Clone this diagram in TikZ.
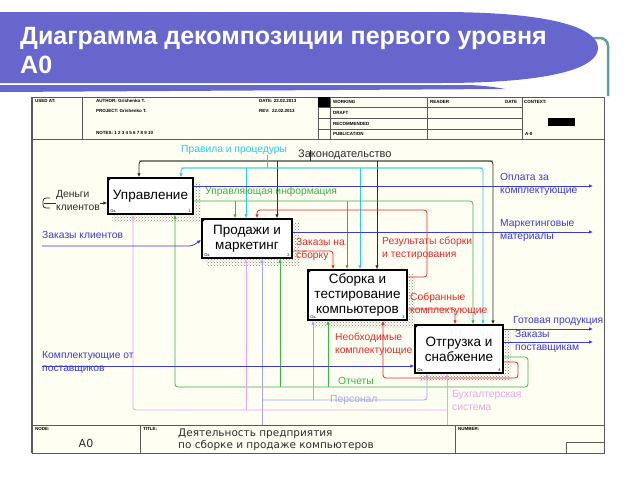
\documentclass[tikz,border=0pt]{standalone}
\usepackage{fontspec}
\setmainfont{Liberation Sans}
\newfontfamily\dejavu{DejaVu Sans}
\usetikzlibrary{arrows.meta, patterns, calc}

\definecolor{bannerblue}{RGB}{102,102,204}
\definecolor{tealline}{RGB}{96,160,150}
\definecolor{cream}{RGB}{255,254,243}
\definecolor{framegray}{RGB}{90,90,90}
\definecolor{idefblack}{RGB}{45,45,45}
\definecolor{idefblue}{RGB}{60,60,205}
\definecolor{idefred}{RGB}{225,45,45}
\definecolor{idefgreen}{RGB}{60,180,70}
\definecolor{idefcyan}{RGB}{40,205,230}
\definecolor{idefpink}{RGB}{230,165,235}
\definecolor{ideflav}{RGB}{165,165,230}

\begin{document}
\begin{tikzpicture}[x=1pt, y=-1pt,
    wire/.style={line width=0.8pt, rounded corners=3pt},
    flow/.style={wire, -{Latex[length=4pt, width=3.5pt]}},
    proc/.style={draw=black, line width=1.5pt, fill=white, align=center,
                 inner sep=0pt, font=\fontsize{13.5}{15}\selectfont},
    boxshadow/.style={pattern=crosshatch dots, pattern color=gray},
    lbl/.style={inner sep=0pt, align=left, font=\fontsize{10.3}{13}\selectfont},
    hdr/.style={inner sep=0pt, anchor=west, font=\fontsize{4.5}{5}\selectfont\bfseries},
    tag/.style={inner sep=0pt, font=\fontsize{4}{4}\selectfont}]
    \useasboundingbox (0, 0) rectangle (640, 480);

    % slide title
    \draw[tealline, line width=2.5pt, rounded corners=8pt] (560, 38) -- (608, 38) -- (608, 96);
    \fill[bannerblue] (0, 12) -- (440, 12) .. controls (560, 12) and (598, 30) .. (598, 48)
                              .. controls (598, 66) and (560, 83) .. (440, 83) -- (0, 83) -- cycle;
    \fill[bannerblue] (0, 85) -- (470, 85) .. controls (490, 86) and (500, 88) .. (505, 89)
                              -- (0, 92) -- cycle;
    \node[anchor=base west, inner sep=0pt, text=white, font=\fontsize{25}{29}\selectfont\bfseries]
        (title) at (20, 44) {Диаграмма декомпозиции первого уровня};
    \node[anchor=base west, inner sep=0pt, text=white, font=\fontsize{25}{29}\selectfont\bfseries]
        (titleB) at (20, 73) {А0};

    % form
    \fill[cream] (32, 97) rectangle (604, 453);
    \draw[framegray, line width=0.8pt] (32, 97) rectangle (604, 453);
    \draw[framegray, line width=1.6pt] (32, 97) -- (32, 453);
    \draw[framegray, line width=0.8pt] (32, 139) -- (604, 139);
    \draw[framegray, line width=0.8pt] (82, 97) -- (82, 139);
    \foreach \xx in {318, 330, 427, 522}
        \draw[framegray, line width=0.8pt] (\xx, 97) -- (\xx, 139);
    \foreach \yy in {107, 118, 129}
        \draw[framegray, line width=0.8pt] (318, \yy) -- (522, \yy);
    \fill[black] (318, 97) rectangle (330, 107);
    \fill[black] (548, 118) rectangle (575, 126);
    \node[hdr] (used) at (35, 101) {USED AT:};
    \node[hdr] (author) at (96, 101) {AUTHOR: Grishenko T.};
    \node[hdr] (project) at (96, 111) {PROJECT: Grishenko T.};
    \node[hdr] (notes) at (96, 133) {NOTES: 1 2 3 4 5 6 7 8 9 10};
    \node[hdr] (date) at (259, 101) {DATE: 22.02.2013};
    \node[hdr] (rev) at (259, 111) {REV: \ 22.02.2013};
    \node[hdr] (working) at (333, 102) {WORKING};
    \node[hdr] (draft) at (333, 113) {DRAFT};
    \node[hdr] (recom) at (333, 124) {RECOMMENDED};
    \node[hdr] (publ) at (333, 134) {PUBLICATION};
    \node[hdr] (reader) at (430, 102) {READER};
    \node[hdr] (rdate) at (505, 102) {DATE};
    \node[hdr] (context) at (524, 102) {CONTEXT:};
    \node[hdr] (ctxnode) at (525, 134) {A-0};

    \draw[framegray, line width=0.8pt] (32, 425) -- (604, 425);
    \draw[framegray, line width=0.8pt] (140, 425) -- (140, 453);
    \draw[framegray, line width=0.8pt] (455, 425) -- (455, 453);
    \draw[framegray, line width=0.8pt] (566, 442) rectangle (604, 453);
    \node[hdr] (nodehdr) at (35, 429) {NODE:};
    \node[hdr] (titlehdr) at (143, 429) {TITLE:};
    \node[hdr] (numhdr) at (458, 429) {NUMBER:};
    \node[inner sep=0pt, font=\dejavu\fontsize{11}{12}\selectfont, text=idefblack]
        (nodeno) at (86, 443) {A0};
    \node[inner sep=0pt, anchor=north west, align=left,
          font=\dejavu\fontsize{10.5}{12}\selectfont, text=idefblack]
        (formtitle) at (178, 429) {Деятельность предприятия\\по сборке и продаже компьютеров};

    % activities
    \node[proc, minimum width=85, minimum height=36] (b1) at (150.5, 196) {Управление};
    \node[proc, minimum width=90, minimum height=39] (b2) at (247, 238.5) {Продажи и\\маркетинг};
    \node[proc, minimum width=99, minimum height=50] (b3) at (357.5, 295) {Сборка и\\тестирование\\компьютеров};
    \node[proc, minimum width=88, minimum height=48] (b4) at (459, 349) {Отгрузка и\\снабжение};
    \foreach \bb/\nn in {b1/1, b2/2, b3/3, b4/4} {
        \fill[boxshadow] ($(\bb.north east)+(1, 5)$) rectangle ($(\bb.south east)+(7, 7)$);
        \fill[boxshadow] ($(\bb.south west)+(5, 1)$) rectangle ($(\bb.south east)+(1, 7)$);
        \fill[black] (\bb.north west) -- +(5, 0) -- +(0, 5) -- cycle;
        \node[tag, anchor=south west] at ($(\bb.south west)+(3, -2)$) {Ок.};
        \node[tag, anchor=south east] at ($(\bb.south east)+(-3, -2)$) {\nn};
    }

    % controls
    \node[lbl, anchor=west, text=idefblack, font=\fontsize{11}{12}\selectfont] (llaw) at (298, 155) {Законодательство};
    \coordinate (lawL) at (139, 161);
    \coordinate (lawT) at (310, 161);
    \coordinate (lawM) at (277, 161);
    \coordinate (lawN) at (377, 161);
    \coordinate (lawR) at (493, 161);
    \draw[wire, idefblack] (lawT |- llaw.north) -- (lawT);
    \draw[flow, idefblack] (lawR) -- (lawL) -- (lawL |- b1.north);
    \draw[flow, idefblack] (lawM) -- (lawM |- b2.north);
    \draw[flow, idefblack] (lawN) -- (lawN |- b3.north);
    \draw[flow, idefblack] (lawL) -- (lawR) -- (lawR |- b4.north);

    \node[lbl, anchor=west, text=idefcyan] (lrules) at (181, 150) {Правила и процедуры};
    \coordinate (rulL) at (181, 168);
    \coordinate (rulA) at (246, 168);
    \coordinate (rulT) at (267, 168);
    \coordinate (rulB) at (360, 168);
    \coordinate (rulR) at (483, 168);
    \draw[wire, idefcyan] (rulT |- lrules.south) -- (rulT);
    \draw[flow, idefcyan] (rulR) -- (rulL) -- (rulL |- b1.north);
    \draw[flow, idefcyan] (rulA) -- (rulA |- b2.north);
    \draw[flow, idefcyan] (rulB) -- (rulB |- b3.north);
    \draw[flow, idefcyan] (rulL) -- (rulR) -- (rulR |- b4.north);

    % outputs of Управление
    \node[lbl, anchor=west, text=idefgreen] (lmgmt) at (205, 192) {Управляющая информация};
    \coordinate (mgA) at (235, 201);
    \coordinate (mgB) at (347, 201);
    \coordinate (mgR) at (473, 201);
    \draw[flow, idefgreen] (b1.east |- mgA) -- (mgR) -- (mgR |- b4.north);
    \draw[flow, idefgreen] (mgA) -- (mgA |- b2.north);
    \draw[flow, idefgreen] (mgB) -- (mgB |- b3.north);

    \coordinate (payE) at (593, 186);
    \draw[flow, idefblue] (b1.east |- payE) -- (payE);
    \node[lbl, anchor=north west, text=idefblue] (lpay) at (500, 173) {Оплата за\\комплектующие};

    % outputs of Продажи и маркетинг
    \coordinate (mktE) at (593, 232);
    \draw[flow, idefblue] (b2.east |- mktE) -- (mktE);
    \node[lbl, anchor=north west, text=idefblue] (lmkt) at (500, 219) {Маркетинговые\\материалы};

    \coordinate (asmA) at (333, 251);
    \draw[flow, idefred] (b2.east |- asmA) -- (asmA) -- (asmA |- b3.north);
    \node[lbl, anchor=north west, text=idefred] (lasm) at (296, 238) {Заказы на\\сборку};

    % outputs of Сборка
    \coordinate (resA) at (427, 277);
    \coordinate (resB) at (257, 210);
    \draw[flow, idefred] (b3.east |- resA) -- (resA) |- (resB) -- (resB |- b2.north);
    \node[lbl, anchor=north west, text=idefred] (lres) at (382, 237) {Результаты сборки\\и тестирования};

    \coordinate (kitA) at (455, 309);
    \draw[flow, idefred] (b3.east |- kitA) -- (kitA) -- (kitA |- b4.north);
    \node[lbl, anchor=north west, text=idefred] (lkit) at (410, 293) {Собранные\\комплектующие};

    % outputs of Отгрузка
    \coordinate (needA) at (518, 362);
    \coordinate (needB) at (383, 378);
    \draw[flow, idefred] (b4.east |- needA) -- (needA) |- (needB) -- (needB |- b3.south);
    \node[lbl, anchor=north west, text=idefred] (lneed) at (335, 333) {Необходимые\\комплектующие};

    \coordinate (repA) at (528, 357);
    \coordinate (repL) at (175, 387);
    \coordinate (repB) at (280, 387);
    \coordinate (repC) at (328, 387);
    \draw[flow, idefgreen] (b4.east |- repA) -- (repA) |- (repL) -- (repL |- b1.south);
    \draw[flow, idefgreen] (repB) -- (repB |- b2.south);
    \draw[flow, idefgreen] (repC) -- (repC |- b3.south);
    \node[lbl, anchor=west, text=idefgreen] (lrep) at (338, 381) {Отчеты};

    \coordinate (prodE) at (593, 329);
    \draw[flow, idefblue] (b4.east |- prodE) -- (prodE);
    \node[lbl, anchor=west, text=idefblue] (lprod) at (513, 321) {Готовая продукция};

    \coordinate (poE) at (593, 342);
    \draw[flow, idefblue] (b4.east |- poE) -- (poE);
    \node[lbl, anchor=north west, text=idefblue] (lpo) at (515, 330) {Заказы\\поставщикам};

    % mechanisms
    \coordinate (staffS) at (262, 425);
    \coordinate (staffA) at (262, 400);
    \coordinate (staffC) at (313, 400);
    \coordinate (staffR) at (427, 400);
    \draw[flow, ideflav] (staffS) -- (staffS |- b2.south);
    \draw[flow, ideflav] (staffA) -- (staffR) -- (staffR |- b4.south);
    \draw[flow, ideflav] (staffC) -- (staffC |- b3.south);
    \node[lbl, anchor=west, text=ideflav] (lstaff) at (330, 400) {Персонал};

    \coordinate (acctS) at (447, 425);
    \coordinate (acctL) at (133, 410);
    \coordinate (acctA) at (246, 410);
    \coordinate (acctR) at (447, 410);
    \draw[flow, idefpink] (acctS) -- (acctS |- b4.south);
    \draw[flow, idefpink] (acctR) -- (acctL) -- (acctL |- b1.south);
    \draw[flow, idefpink] (acctA) -- (acctA |- b2.south);
    \node[lbl, anchor=north west, text=idefpink] (lacct) at (452, 390) {Бухгалтерская\\система};

    % inputs
    \coordinate (cashS) at (44, 203);
    \draw[flow, idefblack] (cashS) -- (b1.west |- cashS);
    \draw[wire, idefblack] (50, 198) -- (43, 198) -- (43, 208) -- (50, 208);
    \node[lbl, fill=cream, text=idefblack] (lcash) at (78, 201) {Деньги\\клиентов};

    \coordinate (ordS) at (42, 246);
    \coordinate (ordK) at (192, 246);
    \coordinate (ordY) at (192, 240);
    \draw[flow, idefblue] (ordS) -- (ordK) -- (b2.west |- ordY);
    \node[lbl, anchor=west, text=idefblue] (lord) at (42, 235) {Заказы клиентов};

    \coordinate (supS) at (42, 366);
    \draw[flow, idefblue] (supS) -- (b4.west |- supS);
    \node[lbl, anchor=north west, text=idefblue] (lsup) at (42, 351) {Комплектующие от\\поставщиков};
\end{tikzpicture}
\end{document}
